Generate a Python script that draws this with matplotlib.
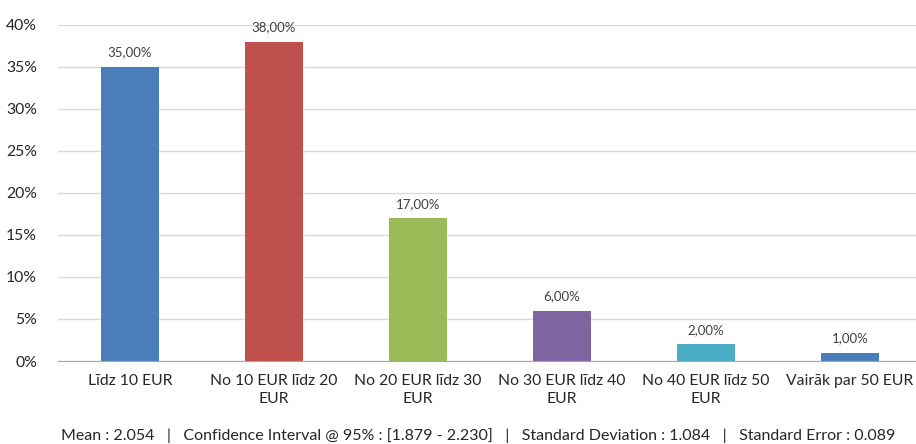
import matplotlib
matplotlib.use("Agg")
import matplotlib.pyplot as plt
from matplotlib.ticker import FuncFormatter

categories = ["Līdz 10 EUR", "No 10 EUR līdz 20\nEUR", "No 20 EUR līdz 30\nEUR",
              "No 30 EUR līdz 40\nEUR", "No 40 EUR līdz 50\nEUR", "Vairāk par 50 EUR"]
values = [35.0, 38.0, 17.0, 6.0, 2.0, 1.0]
colors = ["#4A7EBB", "#C0504D", "#9BBB59", "#8064A2", "#4BACC6", "#4A7EBB"]
stats_text = ("Mean : 2.054   |   Confidence Interval @ 95% : [1.879 - 2.230]   |   "
              "Standard Deviation : 1.084   |   Standard Error : 0.089")

plt.rcParams['font.family'] = ['Lato', 'DejaVu Sans']

fig = plt.figure(figsize=(9.16, 4.44), dpi=100)
ax = fig.add_axes([58/916, 83/444, 864/916, 336/444])

x = range(len(categories))
ax.bar(x, values, width=0.4, color=colors, zorder=3)
for xi, v in zip(x, values):
    ax.text(xi, v + 1.0, f"{v:.2f}%".replace(".", ","), ha="center", va="bottom",
            fontsize=9.5, color="#404040")

ax.set_ylim(0, 40)
ax.set_xlim(-0.5, len(categories) - 0.5)
ax.set_yticks(range(0, 41, 5))
ax.yaxis.set_major_formatter(FuncFormatter(lambda v, p: f"{int(v)}%"))
ax.grid(axis="y", color="#D9D9D9", linewidth=1, zorder=0)
ax.set_xticks(list(x))
ax.set_xticklabels(categories, fontsize=11.3, color="#262626", linespacing=1.45)
ax.tick_params(axis="y", labelsize=11.3, colors="#262626", length=0, pad=15)
ax.tick_params(axis="x", length=0, pad=9)
for s in ["top", "right", "left"]:
    ax.spines[s].set_visible(False)
ax.spines["bottom"].set_color("#A6A6A6")
ax.spines["bottom"].set_zorder(4)

fig.text(478/916, 1 - 436/444, stats_text, ha="center", va="center",
         fontsize=11.5, color="#262626")

fig.savefig("out.png", dpi=100)
